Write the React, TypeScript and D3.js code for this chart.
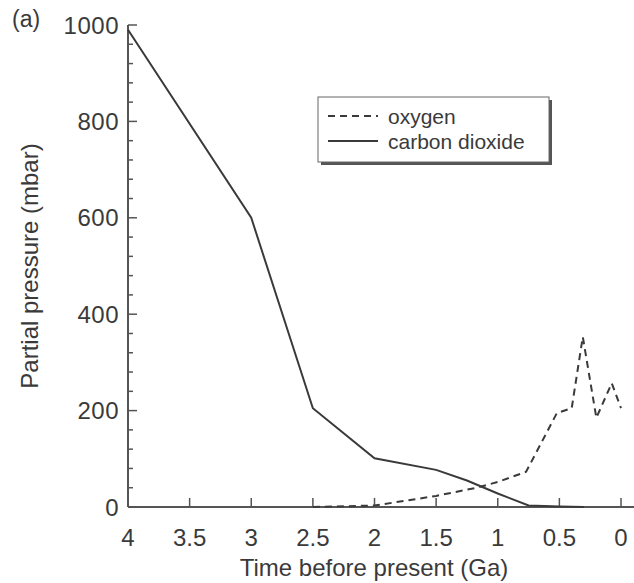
import { useRef, useEffect } from 'react';
import * as d3 from 'd3';

const CO2_TIME = [4, 3, 2.5, 2, 1.5, 1.25, 1, 0.75, 0.5, 0.3];
const CO2_VALUE = [990, 600, 205, 101, 77, 55, 28, 3, 1, 0];

const O2_TIME = [2.5, 2, 1.5, 1.17, 1, 0.77, 0.52, 0.4, 0.31, 0.2, 0.075, 0];
const O2_VALUE = [0, 3, 23, 40, 52, 73, 195, 205, 353, 185, 257, 205];

const X_TICKS = [4, 3.5, 3, 2.5, 2, 1.5, 1, 0.5, 0];
const Y_TICKS = [0, 200, 400, 600, 800, 1000];
const Y_MINOR = d3.range(0, 1001, 40);

const FONT = "'Liberation Sans', Arial, sans-serif";
const INK = '#3a3a3a';

function App() {
  const svgRef = useRef<SVGSVGElement>(null);

  useEffect(() => {
    document.body.style.margin = '0';
    const svg = d3.select(svgRef.current);
    svg.selectAll('*').remove();

    const W = 634, H = 583;
    const x = d3.scaleLinear().domain([4, 0]).range([128, 621]);
    const y = d3.scaleLinear().domain([0, 1000]).range([507, 25]);

    svg.attr('width', W).attr('height', H).style('display', 'block')
      .style('font-family', FONT);

    // axis lines
    svg.append('line').attr('x1', x(4)).attr('x2', x(4)).attr('y1', y(1000)).attr('y2', y(0))
      .attr('stroke', '#555').attr('stroke-width', 2);
    svg.append('line').attr('x1', x(4)).attr('x2', 634).attr('y1', y(0)).attr('y2', y(0))
      .attr('stroke', '#555').attr('stroke-width', 2);

    // y ticks (inward)
    svg.selectAll('line.ymin').data(Y_MINOR).enter().append('line')
      .attr('x1', x(4)).attr('x2', d => x(4) + (d % 200 === 0 ? 9 : 5))
      .attr('y1', d => y(d)).attr('y2', d => y(d))
      .attr('stroke', '#555').attr('stroke-width', 1.5);
    svg.selectAll('text.ylab').data(Y_TICKS).enter().append('text')
      .attr('x', x(4) - 9).attr('y', d => y(d)).attr('dy', '0.36em')
      .attr('text-anchor', 'end').attr('fill', INK).style('font-size', '24px')
      .style('letter-spacing', '0.5px')
      .text(d => d);

    // x ticks (inward)
    svg.selectAll('line.xt').data(X_TICKS.slice(1)).enter().append('line')
      .attr('x1', d => x(d)).attr('x2', d => x(d))
      .attr('y1', y(0)).attr('y2', y(0) - 9)
      .attr('stroke', '#555').attr('stroke-width', 1.5);
    svg.selectAll('text.xlab').data(X_TICKS).enter().append('text')
      .attr('x', d => x(d)).attr('y', y(0) + 39)
      .attr('text-anchor', 'middle').attr('fill', INK).style('font-size', '24px')
      .text(d => d);

    // axis titles
    svg.append('text').attr('x', 374).attr('y', 576).attr('text-anchor', 'middle')
      .attr('fill', INK).style('font-size', '24px').text('Time before present (Ga)');
    svg.append('text').attr('transform', `translate(38,266) rotate(-90)`)
      .attr('text-anchor', 'middle').attr('fill', INK).style('font-size', '24px')
      .text('Partial pressure (mbar)');
    svg.append('text').attr('x', 12).attr('y', 27).attr('fill', INK)
      .style('font-size', '23px').text('(a)');

    const line = d3.line<[number, number]>().x(d => x(d[0])).y(d => y(d[1]));
    const co2 = CO2_TIME.map((t, i) => [t, CO2_VALUE[i]] as [number, number]);
    const o2 = O2_TIME.map((t, i) => [t, O2_VALUE[i]] as [number, number]);

    svg.append('path').attr('d', line(co2)).attr('fill', 'none')
      .attr('stroke', INK).attr('stroke-width', 2);
    svg.append('path').attr('d', line(o2)).attr('fill', 'none')
      .attr('stroke', INK).attr('stroke-width', 2).attr('stroke-dasharray', '7,5');

    // legend with shadow
    const lg = svg.append('g').attr('transform', 'translate(318,97)');
    lg.append('rect').attr('x', 3).attr('y', 3).attr('width', 231).attr('height', 65).attr('fill', '#555');
    lg.append('rect').attr('x', 0).attr('y', 0).attr('width', 231).attr('height', 65)
      .attr('fill', '#fff').attr('stroke', '#666').attr('stroke-width', 1);
    const items = [['oxygen', '7,5'], ['carbon dioxide', null]];
    items.forEach(([label, dash], i) => {
      const cy = 19 + i * 25;
      lg.append('line').attr('x1', 10).attr('x2', 60).attr('y1', cy).attr('y2', cy)
        .attr('stroke', INK).attr('stroke-width', 2).attr('stroke-dasharray', dash);
      lg.append('text').attr('x', 70).attr('y', cy).attr('dy', '0.36em')
        .attr('fill', INK).style('font-size', '21px').text(label as string);
    });
  }, []);

  return <svg ref={svgRef}></svg>;
}

export default App;
